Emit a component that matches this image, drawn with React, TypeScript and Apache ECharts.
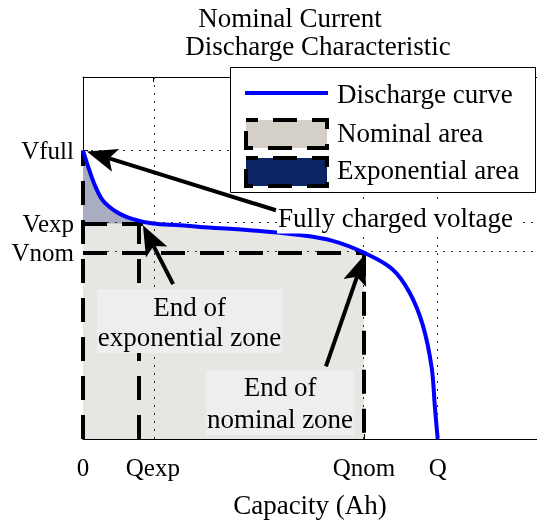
import React, { useEffect, useRef } from "react";
import * as echarts from "echarts";

const FONT = "Liberation Serif";

// Discharge curve (normalised capacity, normalised voltage)
const capacity = [0, 0.014, 0.034, 0.056, 0.096, 0.141, 0.197, 0.273, 0.33, 0.47, 0.611, 0.704, 0.792, 0.873, 0.921, 0.958, 0.983, 0.992, 1.0];
const voltage = [1.0, 0.946, 0.878, 0.827, 0.786, 0.762, 0.747, 0.741, 0.735, 0.724, 0.707, 0.687, 0.646, 0.588, 0.507, 0.395, 0.248, 0.112, 0.0];

const xTickNames = ["0", "Qexp", "Qnom", "Q"];
const xTickValues = [0, 0.197, 0.792, 1.0];
const yTickNames = ["Vnom", "Vexp", "Vfull"];
const yTickValues = [0.646, 0.747, 1.0];

const Qexp = 0.197;
const Qnom = 0.792;
const Q = 1.0;
const Vfull = 1.0;
const Vexp = 0.747;
const Vnom = 0.646;
const expBoxRight = 0.158;
const expLineEnd = 0.169;

const xMax = 1.28;
const yMax = 1.255;

// annotation arrows: [tail, tip]
const arrowFull = [[0.544, 0.793], [0.011, 0.997]];
const arrowExp = [[0.254, 0.537], [0.169, 0.741]];
const arrowNom = [[0.685, 0.252], [0.794, 0.639]];

const legendNames = ["Discharge curve", "Nominal area", "Exponential area"];

export default function App() {
  const ref = useRef<HTMLDivElement>(null);
  useEffect(() => {
    if (!ref.current) return;
    const chart = echarts.init(ref.current, null, { renderer: "svg" });
    const pts = capacity.map((c, i) => [c, voltage[i]]);
    const nominalPts = pts.filter((p) => p[0] <= Qnom + 1e-9);
    const expPts = pts.filter((p) => p[0] <= Qexp + 1e-9);

    const xFmt = (v: number) => {
      const i = xTickValues.findIndex((t) => Math.abs(t - v) < 1e-6);
      return i >= 0 ? xTickNames[i] : "";
    };
    const yFmt = (v: number) => {
      const i = yTickValues.findIndex((t) => Math.abs(t - v) < 1e-6);
      return i >= 0 ? yTickNames[i] : "";
    };

    const dashed = { color: "#000", width: 4, type: [24, 15] as any };
    const dotted = { color: "#333", width: 1, type: [2, 6] as any };
    const SMOOTH = 0.35;

    const option: any = {
      animation: false,
      title: [
        {
          text: "Nominal Current",
          left: 290,
          top: 4,
          textAlign: "center",
          padding: 0,
          textStyle: { fontFamily: FONT, fontSize: 27, fontWeight: "normal", color: "#000" },
        },
        {
          text: "Discharge Characteristic",
          left: 318,
          top: 32,
          textAlign: "center",
          padding: 0,
          textStyle: { fontFamily: FONT, fontSize: 27, fontWeight: "normal", color: "#000" },
        },
      ],
      grid: { left: 83, right: 0, top: 77, bottom: 77, containLabel: false },
      xAxis: [
        {
          type: "value",
          min: 0,
          max: xMax,
          name: "Capacity (Ah)",
          nameLocation: "middle",
          nameGap: 52,
          nameTextStyle: { fontFamily: FONT, fontSize: 27, color: "#000" },
          axisLine: { show: true, onZero: false, lineStyle: { color: "#000", width: 1 } },
          axisTick: { show: true, inside: true, length: 5, customValues: xTickValues, lineStyle: { color: "#000" } },
          axisLabel: { customValues: xTickValues, formatter: xFmt, margin: 16, fontFamily: FONT, fontSize: 25, color: "#000" },
          splitLine: { show: false },
        },
        {
          type: "value",
          position: "top",
          min: 0,
          max: xMax,
          axisLine: { show: true, onZero: false, lineStyle: { color: "#000", width: 1 } },
          axisTick: { show: true, inside: true, length: 5, customValues: xTickValues, lineStyle: { color: "#000" } },
          axisLabel: { show: false },
          splitLine: { show: false },
        },
      ],
      yAxis: {
        type: "value",
        min: 0,
        max: yMax,
        axisLine: { show: true, onZero: false, lineStyle: { color: "#000", width: 1 } },
        axisTick: { show: true, inside: true, length: 5, customValues: yTickValues, lineStyle: { color: "#000" } },
        axisLabel: { customValues: yTickValues, formatter: yFmt, margin: 9, fontFamily: FONT, fontSize: 25, color: "#000" },
        splitLine: { show: false },
      },
      series: [
        {
          name: "Nominal area",
          type: "line",
          z: 1,
          data: nominalPts,
          smooth: SMOOTH,
          showSymbol: false,
          silent: true,
          lineStyle: { opacity: 0 },
          areaStyle: { color: "#e7e6e3", opacity: 1 },
        },
        {
          name: "Exponential area",
          type: "line",
          z: 2,
          data: expPts,
          smooth: SMOOTH,
          showSymbol: false,
          silent: true,
          lineStyle: { opacity: 0 },
          areaStyle: { color: "#a9adc1", opacity: 1, origin: Vexp },
        },
        {
          name: "grid",
          type: "line",
          z: 3,
          data: pts,
          showSymbol: false,
          silent: true,
          lineStyle: { opacity: 0 },
          markLine: {
            silent: true,
            symbol: ["none", "none"],
            label: { show: false },
            emphasis: { disabled: true },
            lineStyle: dotted,
            data: [
              { xAxis: Qexp },
              { xAxis: Qnom },
              { xAxis: Q },
              { yAxis: Vfull },
              { yAxis: Vexp },
              { yAxis: Vnom },
            ],
          },
        },
        {
          name: "outlines",
          type: "line",
          z: 4,
          data: pts,
          showSymbol: false,
          silent: true,
          lineStyle: { opacity: 0 },
          markLine: {
            silent: true,
            symbol: ["none", "none"],
            label: { show: false },
            emphasis: { disabled: true },
            lineStyle: dashed,
            data: [
              [{ coord: [0, Vnom] }, { coord: [Qnom, Vnom] }],
              [{ coord: [Qnom, Vnom] }, { coord: [Qnom, 0] }],
              [{ coord: [0, 0] }, { coord: [0, Vfull] }],
              [{ coord: [0, Vexp] }, { coord: [expLineEnd, Vexp] }],
              [{ coord: [expBoxRight, 0] }, { coord: [expBoxRight, Vexp] }],
            ],
          },
        },
        {
          name: "Discharge curve",
          type: "line",
          z: 5,
          data: pts,
          smooth: SMOOTH,
          showSymbol: false,
          silent: true,
          lineStyle: { color: "#0000ff", width: 4 },
        },
      ],
    };
    chart.setOption(option);

    const toPx = (p: number[]) => chart.convertToPixel({ xAxisIndex: 0, yAxisIndex: 0 }, p) as number[];
    const arrow = (a: number[][]) => {
      const t0 = toPx(a[0]);
      const t1 = toPx(a[1]);
      const dx = t1[0] - t0[0];
      const dy = t1[1] - t0[1];
      const len = Math.sqrt(dx * dx + dy * dy);
      const ux = dx / len;
      const uy = dy / len;
      const nx = -uy;
      const ny = ux;
      const L = 30;
      const W = 12;
      const bx = t1[0] - ux * L;
      const by = t1[1] - uy * L;
      const nxp = t1[0] - ux * L * 0.78;
      const nyp = t1[1] - uy * L * 0.78;
      return [
        {
          type: "line",
          z: 50,
          shape: { x1: t0[0], y1: t0[1], x2: nxp, y2: nyp },
          style: { stroke: "#000", lineWidth: 4 },
          silent: true,
        },
        {
          type: "polygon",
          z: 51,
          shape: {
            points: [
              [t1[0], t1[1]],
              [bx + nx * W, by + ny * W],
              [nxp, nyp],
              [bx - nx * W, by - ny * W],
            ],
          },
          style: { fill: "#000" },
          silent: true,
        },
      ];
    };

    const txt = (text: string, x: number, y: number, align = "center", extra: any = {}) => ({
      type: "text",
      z: 60,
      x,
      y,
      silent: true,
      style: {
        text,
        align,
        verticalAlign: "middle",
        fontFamily: FONT,
        fontSize: 27,
        fill: "#000",
        ...extra,
      },
    });

    const graphic: any[] = [
      ...arrow(arrowFull),
      ...arrow(arrowExp),
      ...arrow(arrowNom),
      txt("Fully charged voltage", 277, 218, "left", { backgroundColor: "#fff", padding: [2, 9, 2, 1] }),
      { type: "rect", z: 55, silent: true, shape: { x: 97, y: 289, width: 185, height: 64 }, style: { fill: "#eeeeee" } },
      txt("End of", 189.5, 307),
      txt("exponential zone", 189.5, 337),
      { type: "rect", z: 55, silent: true, shape: { x: 206, y: 370, width: 148, height: 65 }, style: { fill: "#eeeeee" } },
      txt("End of", 280, 387),
      txt("nominal zone", 280, 419),
      // legend
      { type: "rect", z: 70, silent: true, shape: { x: 230.5, y: 67.5, width: 305, height: 125 }, style: { fill: "#fff", stroke: "#000", lineWidth: 1 } },
      { type: "line", z: 71, silent: true, shape: { x1: 245, y1: 93, x2: 328, y2: 93 }, style: { stroke: "#0000ff", lineWidth: 4 } },
      { type: "rect", z: 71, silent: true, shape: { x: 246, y: 120, width: 81, height: 28 }, style: { fill: "#d4d0c8", stroke: "#000", lineWidth: 4, lineDash: [24, 15], lineDashOffset: 12 } },
      { type: "rect", z: 71, silent: true, shape: { x: 246, y: 158, width: 81, height: 28 }, style: { fill: "#0b2563", stroke: "#000", lineWidth: 4, lineDash: [24, 15], lineDashOffset: 12 } },
      { ...txt(legendNames[0], 337, 94, "left"), z: 72 },
      { ...txt(legendNames[1], 337, 133, "left"), z: 72 },
      { ...txt(legendNames[2], 337, 170, "left"), z: 72 },
    ];
    chart.setOption({ graphic });

    return () => chart.dispose();
  }, []);

  return <div ref={ref} style={{ position: "fixed", left: 0, top: 0, width: 537, height: 523 }} />;
}
